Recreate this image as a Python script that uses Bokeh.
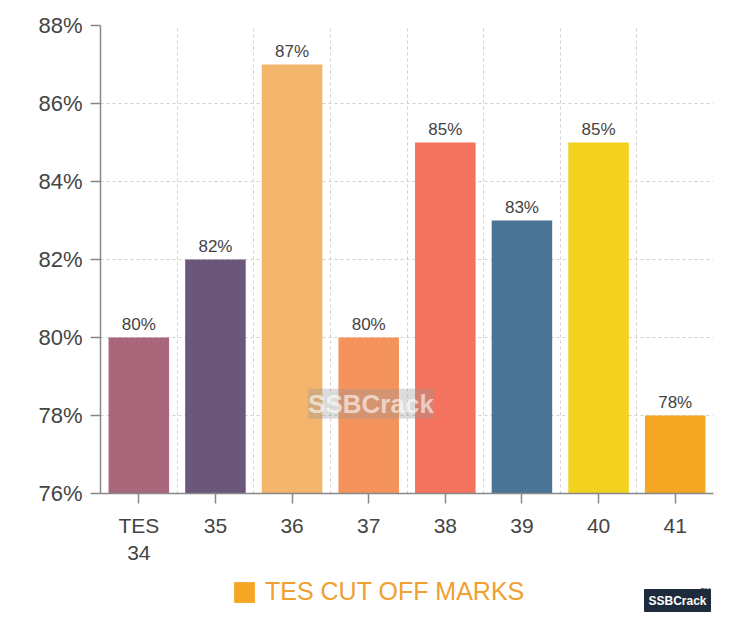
import numpy as np
from bokeh.plotting import figure
from bokeh.layouts import column
from bokeh.models import (ColumnDataSource, FixedTicker, Legend, LegendItem, Label,
                          CustomJSTickFormatter, Range1d)
from bokeh.core.properties import value
from bokeh.embed import file_html
from bokeh.resources import INLINE

categories = ["TES\n34", "35", "36", "37", "38", "39", "40", "41"]
values = [80, 82, 87, 80, 85, 83, 85, 78]
labels = ["80%", "82%", "87%", "80%", "85%", "83%", "85%", "78%"]
colors = ["#A8677A", "#6B5779", "#F3B56B", "#F5935C", "#F4735E", "#4A7597", "#F3D21F", "#F5A623"]
y_ticks = [76, 78, 80, 82, 84, 86, 88]
series_name = "TES CUT OFF MARKS"
series_color = "#F5A623"

FONT = "Liberation Sans"
idx = list(range(len(categories)))
src = ColumnDataSource(dict(x=idx, top=values, color=colors, label=labels))

p = figure(width=750, height=567, output_backend="svg", toolbar_location=None,
           x_range=Range1d(-0.5, len(categories) - 0.5), y_range=Range1d(76, 88),
           min_border_left=100, min_border_right=37, min_border_top=25, min_border_bottom=74)
p.outline_line_color = None
p.background_fill_color = "white"

bars = p.vbar(x="x", top="top", bottom=76, width=0.79, fill_color="color", line_color=None, source=src)
p.text(x="x", y="top", text="label", source=src, text_align="center", text_baseline="bottom",
       y_offset=-4, text_font_size="17px", text_color="#444444", text_font=value(FONT))

# axes
p.xaxis.ticker = FixedTicker(ticks=idx)
p.xaxis.major_label_overrides = {i: c for i, c in zip(idx, categories)}
p.yaxis.ticker = FixedTicker(ticks=y_ticks)
p.yaxis.formatter = CustomJSTickFormatter(code="return tick + '%';")
for ax in (p.xaxis[0], p.yaxis[0]):
    ax.axis_line_color = "#888888"
    ax.axis_line_width = 1.5
    ax.major_tick_line_color = "#888888"
    ax.major_tick_line_width = 1.5
    ax.major_tick_out = 10
    ax.major_tick_in = 0
    ax.minor_tick_line_color = None
    ax.major_label_text_font = FONT
    ax.major_label_text_color = "#444444"
p.yaxis.major_label_text_font_size = "22px"
p.xaxis.major_label_text_font_size = "21px"
p.yaxis.major_label_standoff = 8
p.xaxis.major_label_standoff = 10

# grids
p.ygrid.ticker = FixedTicker(ticks=y_ticks)
p.ygrid.grid_line_color = "#d0d0d0"
p.ygrid.grid_line_dash = "3 3"
p.xgrid.ticker = FixedTicker(ticks=[i + 0.5 for i in idx])
p.xgrid.grid_line_color = "#d0d0d0"
p.xgrid.grid_line_dash = "3 3"

# watermark
p.add_layout(Label(x=3.03, y=78.3, text="SSBCrack", text_font=FONT, text_font_size="26px",
                   text_color="#ffffff", text_alpha=0.6, text_align="center", text_baseline="middle",
                   background_fill_color="#999999", background_fill_alpha=0.35,
                   text_font_style="bold"))

# legend strip (frame is aligned with the main plot's frame by the column layout)
lg = figure(width=750, height=66, output_backend="svg", toolbar_location=None,
            x_range=Range1d(0, 1), y_range=Range1d(0, 1),
            min_border=0, outline_line_color=None)
lg.axis.visible = False
lg.grid.visible = False
dummy = lg.vbar(x=[-5], top=[-5], bottom=-6, width=0.5, fill_color=series_color, line_color=None)
legend = Legend(items=[LegendItem(label=series_name, renderers=[dummy])],
                orientation="horizontal", location=(131, 27),
                label_text_color="#F0A030", label_text_font=FONT, label_text_font_size="25px",
                glyph_width=26, glyph_height=26, border_line_color=None,
                background_fill_alpha=0, margin=0, padding=4, label_standoff=8)
lg.add_layout(legend, "center")
lg.add_layout(Label(x=544, y=22, x_units="screen", y_units="screen", text="SSBCrack",
                    text_font=FONT, text_font_size="12px", text_font_style="bold",
                    text_color="#ffffff", background_fill_color="#1E2B3C",
                    border_line_color="#1E2B3C", padding=4))
lg.add_layout(Label(x=600, y=40, x_units="screen", y_units="screen", text="TM",
                    text_font=FONT, text_font_size="7px", text_color="#1E2B3C"))

layout = column(p, lg, spacing=0)

with open("out.html", "w") as f:
    f.write(file_html(layout, INLINE))
